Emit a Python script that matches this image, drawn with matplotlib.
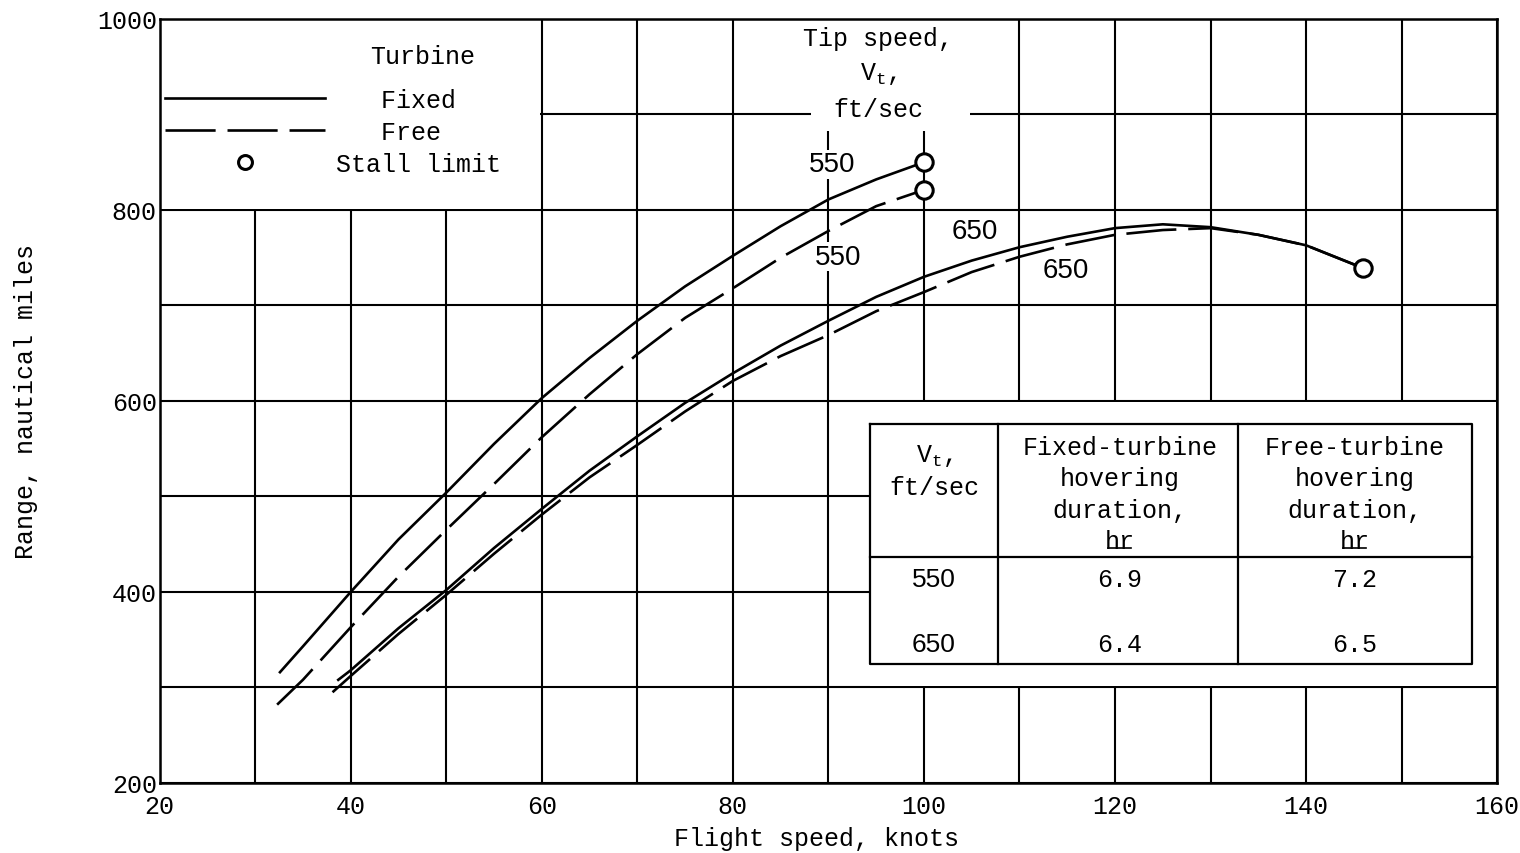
import matplotlib.pyplot as plt
from matplotlib.patches import Rectangle
from matplotlib.lines import Line2D

plt.rcParams['font.family'] = ['Liberation Mono', 'DejaVu Sans Mono']
plt.rcParams['mathtext.fontset'] = 'custom'
plt.rcParams['mathtext.rm'] = 'Liberation Mono'
plt.rcParams['mathtext.it'] = 'Liberation Mono'

# range (nautical miles) against flight speed (knots), per tip speed and turbine type
fixed_550_x = [32.6, 35, 40, 45, 50, 55, 60, 65, 70, 75, 80, 85, 90, 95, 100]
fixed_550_y = [316, 343, 400, 455, 504, 555, 603, 645, 684, 720, 752, 783, 811, 832, 850]

free_550_x = [32.3, 35, 40, 45, 50, 55, 60, 65, 70, 75, 80, 85, 90, 95, 100]
free_550_y = [282, 308, 363, 416, 465, 513, 562, 607, 649, 687, 718, 750, 778, 804, 821]

fixed_650_x = [38.7, 40, 45, 50, 55, 60, 65, 70, 75, 80, 85, 90, 95, 100, 105,
               110, 115, 120, 125, 130, 135, 140, 146]
fixed_650_y = [308, 318, 362, 402, 446, 487, 527, 563, 598, 629, 658, 684, 709, 730, 747,
               761, 772, 781, 785, 782, 774, 763, 739]

free_650_x = [38.1, 40, 45, 50, 55, 60, 65, 70, 75, 80, 85, 90, 95, 100, 105,
              110, 115, 120, 125, 130, 135, 140, 146]
free_650_y = [295, 312, 356, 397, 440, 481, 520, 554, 589, 621, 647, 669, 694, 714, 735,
              751, 764, 774, 779, 781, 774, 763, 739]

# hovering duration table
tip_speeds = ['550', '650']
fixed_hover = ['6.9', '6.4']
free_hover = ['7.2', '6.5']

fig = plt.figure(figsize=(15.2, 8.54), dpi=100)
ax = fig.add_axes([0.105, 0.082, 0.88, 0.8946])

ax.set_xlim(20, 160)
ax.set_ylim(200, 1000)
ax.set_xticks(range(20, 161, 20))
ax.set_xticks(range(30, 160, 20), minor=True)
ax.set_yticks(range(200, 1001, 200))
ax.set_yticks(range(300, 1000, 200), minor=True)
ax.set_axisbelow(True)
ax.grid(which='both', color='black', lw=1.5)
ax.tick_params(which='both', length=0, labelsize=18)
ax.tick_params(axis='x', pad=8)
ax.tick_params(axis='y', pad=2)
for sp in ax.spines.values():
    sp.set_linewidth(1.8)

ax.set_xlabel('Flight speed, knots', fontsize=18, labelpad=6)
ax.xaxis.label.set_x(0.491)
ax.set_ylabel('Range, nautical miles', fontsize=18, labelpad=42)

# blank out the grid behind the key, the tip speed heading and the table
for (x0, y0, w, h) in [(20, 801.3, 39.8, 198.7), (88.2, 883, 16.6, 117),
                       (94.35, 301.6, 65.5, 296.9)]:
    ax.add_patch(Rectangle((x0, y0), w, h, facecolor='white', edgecolor='none', zorder=1))

dash = (0, (19, 4.5))
l_fixed, = ax.plot(fixed_550_x, fixed_550_y, color='black', lw=1.9, zorder=3)
ax.plot(fixed_650_x, fixed_650_y, color='black', lw=1.9, zorder=3)
l_free, = ax.plot(free_550_x, free_550_y, color='black', lw=1.9, ls=dash, zorder=3)
ax.plot(free_650_x, free_650_y, color='black', lw=1.9, ls=dash, zorder=3)

# stall limit at the end of every curve
ends = []
for xs, ys in [(fixed_550_x, fixed_550_y), (free_550_x, free_550_y),
               (fixed_650_x, fixed_650_y), (free_650_x, free_650_y)]:
    if (xs[-1], ys[-1]) not in ends:
        ends.append((xs[-1], ys[-1]))
stall, = ax.plot([e[0] for e in ends], [e[1] for e in ends], 'o', ms=12.5,
                 mfc='white', mec='black', mew=2.2, zorder=5)

# tip speed labels on the curves
lab = dict(fontsize=20, family='Liberation Sans', ha='center', va='center', zorder=2,
           bbox=dict(fc='white', ec='none', pad=1))
ax.text(90.4, 848, '550', **lab)
ax.text(91.0, 751, '550', **lab)
ax.text(105.3, 778, '650', **lab)
ax.text(114.9, 737, '650', **lab)
ax.text(95.2, 943, 'Tip speed,\nV$_\\mathrm{t}$,\nft/sec', fontsize=18, ha='center',
        va='center', linespacing=1.55)

# key
ax.text(47.5, 961, 'Turbine', fontsize=18, ha='center', va='center')
proxy_stall = Line2D([], [], ls='none', marker='o', ms=10, mfc='white', mec='black', mew=2.2)
leg = ax.legend([l_fixed, l_free, proxy_stall], ['   Fixed', '   Free', 'Stall limit'],
                fontsize=18, loc='upper left', bbox_to_anchor=(0.0, 0.916),
                frameon=False, handlelength=6.4, handletextpad=0.45,
                labelspacing=0.31, borderpad=0.2, borderaxespad=0)
leg.set_zorder(6)

# hovering duration table
tl, tr, c1, c2 = 94.35, 157.4, 107.75, 132.9
tt, th, tb = 575.9, 436.6, 324.6
tkw = dict(color='black', lw=1.6, zorder=4)
ax.plot([tl, tr, tr, tl, tl], [tt, tt, tb, tb, tt], **tkw)
ax.plot([tl, tr], [th, th], **tkw)
ax.plot([c1, c1], [tt, tb], **tkw)
ax.plot([c2, c2], [tt, tb], **tkw)

ax.text(101.05, 527, 'V$_\\mathrm{t}$,\nft/sec', fontsize=18, ha='center', va='center',
        linespacing=1.4, zorder=5)
for cx, head in [(120.5, 'Fixed-turbine'), (145.1, 'Free-turbine')]:
    ax.text(cx, 502.6, head + '\nhovering\nduration,\nhr', fontsize=18, ha='center',
            va='center', linespacing=1.37, zorder=5)
    ax.plot([cx - 1.2, cx + 1.2], [446, 446], color='black', lw=1.2, zorder=5)

for row, ty in zip(range(len(tip_speeds)), [413.6, 345.5]):
    ax.text(101.05, ty, tip_speeds[row], fontsize=19, family='Liberation Sans',
            ha='center', va='center', zorder=5)
    ax.text(120.5, ty, fixed_hover[row], fontsize=18, ha='center', va='center', zorder=5)
    ax.text(145.1, ty, free_hover[row], fontsize=18, ha='center', va='center', zorder=5)

fig.savefig('out.png', dpi=100)
